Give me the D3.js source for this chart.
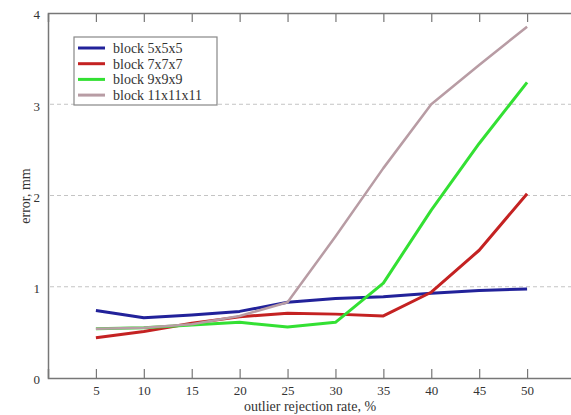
<!DOCTYPE html>
<html>
<head>
<meta charset="utf-8">
<script src="https://cdn.jsdelivr.net/npm/d3@7"></script>
<style>
  body { margin: 0; background: #fff; }
  svg text { font-family: "Liberation Serif", "DejaVu Serif", serif !important; fill: #333; }
</style>
</head>
<body>
<div id="chart"></div>
<script>
// data
var rates = [5, 10, 15, 20, 25, 30, 35, 40, 45, 50];
var block5 = [0.74, 0.66, 0.69, 0.73, 0.83, 0.87, 0.89, 0.93, 0.96, 0.975];
var block7 = [0.44, 0.51, 0.60, 0.67, 0.71, 0.70, 0.68, 0.94, 1.40, 2.02];
var block9 = [0.54, 0.55, 0.58, 0.61, 0.56, 0.61, 1.04, 1.84, 2.57, 3.24];
var block11 = [0.54, 0.55, 0.59, 0.68, 0.83, 1.55, 2.30, 3.00, 3.43, 3.85];
var seriesNames = ["block 5x5x5", "block 7x7x7", "block 9x9x9", "block 11x11x11"];
var seriesColors = ["#22229a", "#c42222", "#33e033", "#b89ca4"];
var yTicks = [0, 1, 2, 3, 4];
var gridTicks = [1, 2, 3];

var svgWidth = 571;
var svgHeight = 415;
var margin = { top: 13, right: -4, bottom: 37, left: 48 };
var width = svgWidth - margin.left - margin.right;
var height = svgHeight - margin.top - margin.bottom;

var svg = d3.select("#chart").append("svg")
  .attr("width", svgWidth)
  .attr("height", svgHeight);

var chartGroup = svg.append("g")
  .attr("transform", `translate(${margin.left}, ${margin.top})`);

var x = d3.scaleLinear().domain([0, 55]).range([0, width]);
var y = d3.scaleLinear().domain([0, 4]).range([height, 0]);

// dashed grid
chartGroup.selectAll(".grid")
  .data(gridTicks)
  .enter()
  .append("line")
  .attr("x1", 2)
  .attr("x2", width)
  .attr("y1", d => y(d))
  .attr("y2", d => y(d))
  .attr("stroke", "#c4c4c4")
  .attr("stroke-dasharray", "4,3");

// bottom axis, ticks pointing inward
var bottomAxis = d3.axisBottom(x).tickValues(rates).tickSize(-9).tickPadding(8);
var xAxis = chartGroup.append("g")
  .attr("transform", `translate(0, ${height})`)
  .call(bottomAxis);

// top border with inward ticks
var topAxis = d3.axisTop(x).tickValues(rates).tickSize(-9).tickFormat("");
var xTop = chartGroup.append("g").call(topAxis);

var leftAxis = d3.axisLeft(y).tickValues(yTicks).tickSize(0).tickPadding(8).tickFormat(d3.format("d"));
var yAxis = chartGroup.append("g").call(leftAxis);

[xAxis, xTop, yAxis].forEach(function(a) {
  a.attr("font-family", null);
  a.select(".domain").attr("stroke", "#777").attr("stroke-width", 1.5);
  a.selectAll(".tick line").attr("stroke", "#777").attr("stroke-width", 1.2);
  a.selectAll("text").attr("font-size", "13px").attr("fill", "#333");
});
yAxis.selectAll(".tick text").attr("dy", "0.45em");

// lines
var allSeries = [block5, block7, block9, block11];
var line = d3.line()
  .x((d, i) => x(rates[i]))
  .y(d => y(d));

chartGroup.selectAll(".series")
  .data(allSeries)
  .enter()
  .append("path")
  .attr("d", d => line(d))
  .attr("fill", "none")
  .attr("stroke", (d, i) => seriesColors[i])
  .attr("stroke-width", (d, i) => i === 3 ? 2.5 : 3)
  .attr("stroke-linejoin", "round");

// legend
var legend = svg.append("g").attr("transform", "translate(74, 37)");
legend.append("rect")
  .attr("width", 143)
  .attr("height", 68)
  .attr("fill", "#fff")
  .attr("stroke", "#888")
  .attr("stroke-width", 1.2);

var items = legend.selectAll(".item")
  .data(seriesNames)
  .enter()
  .append("g")
  .attr("transform", (d, i) => `translate(0, ${11 + i * 15.7})`);

items.append("line")
  .attr("x1", 4).attr("x2", 31)
  .attr("stroke", (d, i) => seriesColors[i])
  .attr("stroke-width", 3);

items.append("text")
  .attr("x", 39)
  .attr("dy", "0.35em")
  .attr("font-size", "14px")
  .text(d => d);

// axis titles
svg.append("text")
  .attr("x", 310)
  .attr("y", 411)
  .attr("text-anchor", "middle")
  .attr("font-size", "14px")
  .text("outlier rejection rate, %");

svg.append("text")
  .attr("transform", "rotate(-90)")
  .attr("x", -196)
  .attr("y", 30)
  .attr("text-anchor", "middle")
  .attr("font-size", "14px")
  .text("error, mm");
</script>
</body>
</html>
